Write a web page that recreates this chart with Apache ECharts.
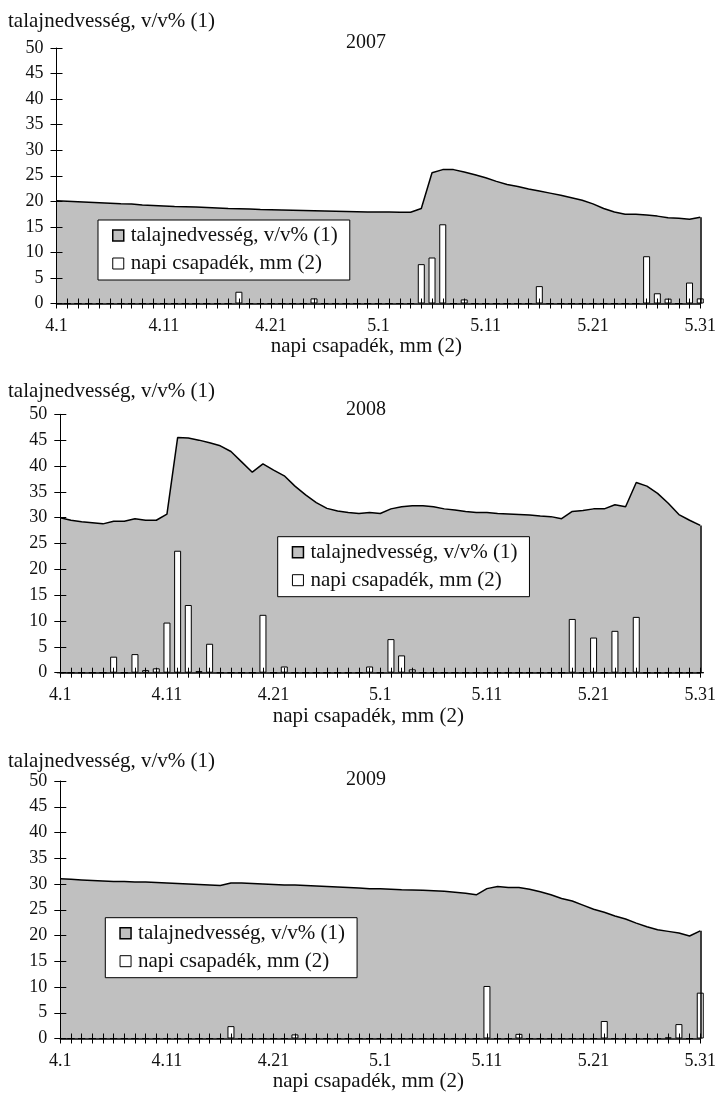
<!DOCTYPE html>
<html><head><meta charset="utf-8">
<script src="https://cdn.jsdelivr.net/npm/echarts@6/dist/echarts.min.js"></script>
<style>html,body{margin:0;padding:0;background:#fff}#c{width:719px;height:1099px}</style>
</head><body><div id="c"></div>
<script>
// ---- categories (1 April .. 31 May) ----
const days = ['4.1','4.2','4.3','4.4','4.5','4.6','4.7','4.8','4.9','4.10',
  '4.11','4.12','4.13','4.14','4.15','4.16','4.17','4.18','4.19','4.20',
  '4.21','4.22','4.23','4.24','4.25','4.26','4.27','4.28','4.29','4.30',
  '5.1','5.2','5.3','5.4','5.5','5.6','5.7','5.8','5.9','5.10',
  '5.11','5.12','5.13','5.14','5.15','5.16','5.17','5.18','5.19','5.20',
  '5.21','5.22','5.23','5.24','5.25','5.26','5.27','5.28','5.29','5.30','5.31'];
const tickLabels = ['4.1','4.11','4.21','5.1','5.11','5.21','5.31'];
const yTicks = [0, 50, 5];   // min, max, step
const years = ['2007','2008','2009'];
const nameSoil = 'talajnedvesség, v/v% (1)';
const nameRain = 'napi csapadék, mm (2)';

// ---- soil moisture, v/v% ----
const soil2007 = [20.1,20.0,19.9,19.8,19.7,19.6,19.5,19.45,19.3,19.2,
  19.1,19.0,18.95,18.9,18.8,18.7,18.6,18.55,18.5,18.4,
  18.35,18.3,18.25,18.2,18.15,18.1,18.05,18.0,17.95,17.9,
  17.9,17.9,17.85,17.85,18.6,25.6,26.2,26.2,25.75,25.2,
  24.6,23.9,23.3,22.9,22.4,22.0,21.6,21.2,20.7,20.2,
  19.5,18.6,17.9,17.45,17.45,17.3,17.1,16.8,16.7,16.5,16.9];
const soil2008 = [30.0,29.5,29.2,29.0,28.8,29.3,29.3,29.8,29.5,29.5,
  30.7,45.5,45.4,45.0,44.5,43.9,42.8,40.8,38.8,40.4,
  39.2,38.1,36.1,34.4,32.9,31.8,31.3,31.0,30.8,31.0,
  30.8,31.7,32.1,32.3,32.3,32.1,31.7,31.5,31.2,31.0,
  31.0,30.8,30.7,30.6,30.5,30.3,30.2,29.8,31.2,31.4,
  31.7,31.7,32.5,32.1,36.8,36.1,34.7,32.8,30.6,29.5,28.5];
const soil2009 = [31.0,30.9,30.8,30.7,30.6,30.5,30.5,30.4,30.4,30.3,
  30.2,30.1,30.0,29.9,29.8,29.7,30.2,30.2,30.1,30.0,
  29.9,29.8,29.8,29.7,29.6,29.5,29.4,29.3,29.2,29.1,
  29.1,29.0,28.9,28.85,28.8,28.7,28.6,28.4,28.2,27.9,
  29.1,29.5,29.3,29.3,29.0,28.5,27.9,27.2,26.7,25.9,
  25.1,24.5,23.8,23.2,22.4,21.7,21.1,20.8,20.5,19.9,20.9];

// ---- daily precipitation, mm ----
const rain2007 = [0,0,0,0,0,0,0,0,0,0,
  0,0,0,0,0,0,0,2.3,0,0,
  0,0,0,0,1.0,0,0,0,0,0,
  0,0,0,0,7.7,9.0,15.5,0,0.8,0,
  0,0,0,0,0,3.4,0,0,0,0,
  0,0,0,0,0,9.25,2.0,0.95,0,4.1,1.0];
const rain2008 = [0,0,0,0,0,3.1,0,3.6,0.5,0.85,
  9.7,23.6,13.1,0.3,5.6,0,0,0,0,11.2,
  0,1.2,0,0,0,0,0,0,0,1.2,
  0,6.5,3.35,0.65,0,0,0,0,0,0,
  0,0,0,0,0,0,0,0,10.4,0,
  6.8,0,8.1,0,10.8,0,0,0,0,0,0];
const rain2009 = [0,0,0,0,0,0,0,0,0,0,
  0,0,0,0,0,0,2.4,0,0,0,
  0,0,0.8,0,0,0,0,0,0,0,
  0,0,0,0,0,0,0,0,0,0,
  10.2,0,0,0.9,0,0,0,0,0,0,
  0,3.4,0,0,0,0,0,0.2,2.8,0,8.9];

const soilSets = [soil2007, soil2008, soil2009];
const rainSets = [rain2007, rain2008, rain2009];

// ---- layout / style (not data) ----
const FONT = "'Liberation Serif','Times New Roman',serif";
const TXT = '#111';
const panels = [
  {left:56.5, top:48,    width:644.2, height:255.5, legL:98,    legT:220,   titleT:33,  nameT:11},
  {left:60.3, top:414.3, width:640.4, height:258.4, legL:277.7, legT:536.7, titleT:400, nameT:381},
  {left:60.3, top:781,   width:640.4, height:257.5, legL:105.3, legT:917.7, titleT:770, nameT:751}
];

const grid = [], xAxis = [], yAxis = [], series = [], legend = [], title = [];
panels.forEach((p, i) => {
  grid.push({left:p.left, top:p.top, width:p.width, height:p.height, containLabel:false});
  title.push({text:years[i], left:346, top:p.titleT, padding:0,
    textStyle:{fontFamily:FONT, fontSize:20, fontWeight:'normal', color:TXT}});
  title.push({text:nameSoil, left:8, top:p.nameT, padding:0,
    textStyle:{fontFamily:FONT, fontSize:21, fontWeight:'normal', color:TXT}});
  // x axes: outer ticks + labels, then inner ticks (cross tick marks)
  xAxis.push({type:'category', gridIndex:i, data:days, boundaryGap:false, position:'bottom', z:5,
    axisLine:{show:true, lineStyle:{color:'#000', width:1.5}},
    axisTick:{show:true, interval:0, length:5, inside:false, lineStyle:{color:'#000', width:1}},
    axisLabel:{show:true, interval:9, margin:14, fontFamily:FONT, fontSize:18, color:TXT,
      formatter: v => tickLabels.includes(v) ? v : ''},
    splitLine:{show:false},
    name:nameRain, nameLocation:'middle', nameGap:32,
    nameTextStyle:{fontFamily:FONT, fontSize:21, color:TXT, padding:[0,24,0,0]}});
  xAxis.push({type:'category', gridIndex:i, data:days, boundaryGap:false, position:'bottom', z:5,
    axisLine:{show:false},
    axisTick:{show:true, interval:0, length:5, inside:true, lineStyle:{color:'#000', width:1}},
    axisLabel:{show:false}, splitLine:{show:false}});
  // y axes
  yAxis.push({type:'value', gridIndex:i, min:yTicks[0], max:yTicks[1], interval:yTicks[2], position:'left', z:5,
    axisLine:{show:true, lineStyle:{color:'#000', width:1}},
    axisTick:{show:true, length:6, inside:false, lineStyle:{color:'#000'}},
    axisLabel:{margin:13, fontFamily:FONT, fontSize:18, color:TXT},
    splitLine:{show:false}});
  yAxis.push({type:'value', gridIndex:i, min:yTicks[0], max:yTicks[1], interval:yTicks[2], position:'left', z:5,
    axisLine:{show:false},
    axisTick:{show:true, length:6, inside:true, lineStyle:{color:'#000'}},
    axisLabel:{show:false}, splitLine:{show:false}});

  const soil = soilSets[i];
  const last = soil.length - 1;
  series.push({name:nameSoil, type:'line', xAxisIndex:2*i, yAxisIndex:2*i, data:soil,
    symbol:'none', smooth:false, z:2,
    lineStyle:{color:'#000', width:1.5},
    itemStyle:{color:'#c0c0c0'},
    areaStyle:{color:'#c0c0c0', opacity:1},
    markLine:{silent:true, symbol:'none', label:{show:false}, animation:false,
      lineStyle:{color:'#000', width:1.5, type:'solid'},
      data:[[{coord:[last, 0]}, {coord:[last, soil[last]]}]]}
  });
  series.push({name:nameRain, type:'bar', xAxisIndex:2*i, yAxisIndex:2*i, data:rainSets[i],
    barWidth:7, z:3,
    itemStyle:{color:'#fff', borderColor:'#000', borderWidth:1}});

  legend.push({orient:'vertical', left:p.legL, top:p.legT,
    backgroundColor:'#fff', borderColor:'#000', borderWidth:1,
    padding:[5,12,6,14], itemGap:7, itemWidth:11, itemHeight:11, icon:'rect',
    selectedMode:false,
    textStyle:{fontFamily:FONT, fontSize:21, color:TXT, padding:[0,0,0,2]},
    data:[
      {name:nameSoil, icon:'rect', itemStyle:{color:'#c0c0c0', borderColor:'#000', borderWidth:1.5}},
      {name:nameRain, icon:'rect', itemStyle:{color:'#fff', borderColor:'#000', borderWidth:1}}
    ]});
});

const chart = echarts.init(document.getElementById('c'), null, {renderer:'canvas'});
chart.setOption({animation:false, backgroundColor:'#fff', title, grid, xAxis, yAxis, series, legend});
</script>
</body></html>
